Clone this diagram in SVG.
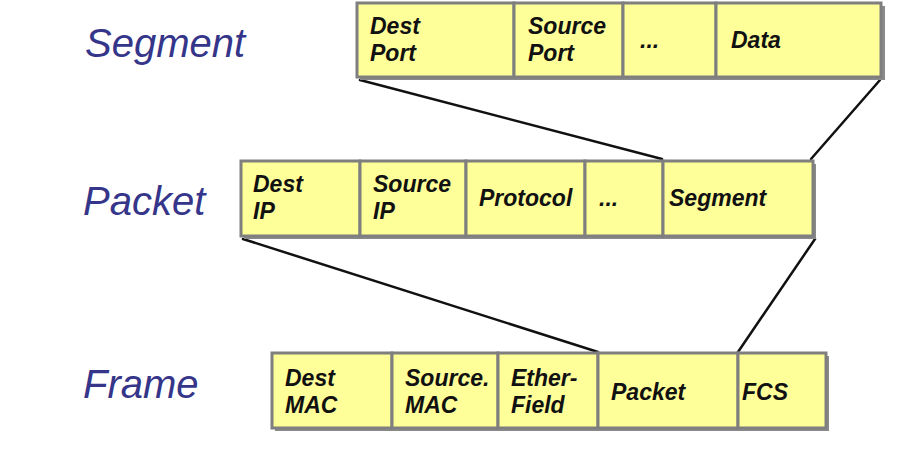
<svg xmlns="http://www.w3.org/2000/svg" width="905" height="461" viewBox="0 0 905 461">
<style>
.bg{fill:#ffffff}
.cell{fill:#ffff99;stroke:#7f7f7f;stroke-width:3}
.shadow{fill:#8a8a8a}
.t{font-family:"Liberation Sans",Arial,sans-serif;font-weight:bold;font-style:italic;font-size:23px;fill:#111111}
.lbl{font-family:"Liberation Sans",Arial,sans-serif;font-style:italic;font-size:40px;fill:#35358a}
.conn{stroke:#111111;stroke-width:2.5;fill:none;stroke-linecap:round}
</style>
<rect class="bg" x="0" y="0" width="905" height="461"/>
<g id="labels">
<text class="lbl" x="85" y="57">Segment</text>
<text class="lbl" x="83" y="215">Packet</text>
<text class="lbl" x="83" y="398">Frame</text>
</g>
<g id="connectors">
<line class="conn" x1="360" y1="80" x2="662" y2="159"/>
<line class="conn" x1="880" y1="80" x2="811" y2="159"/>
<line class="conn" x1="243" y1="239" x2="598" y2="352"/>
<line class="conn" x1="815" y1="239" x2="738" y2="352"/>
</g>
<g id="segment-row">
<rect class="shadow" x="360" y="6" width="525" height="74"/>
<g id="seg-dest-port"><rect class="cell" x="357" y="3" width="157" height="74"/><text class="t" x="370" y="34">Dest</text><text class="t" x="370" y="61">Port</text></g>
<g id="seg-source-port"><rect class="cell" x="514" y="3" width="109" height="74"/><text class="t" x="528" y="34">Source</text><text class="t" x="528" y="61">Port</text></g>
<g id="seg-dots"><rect class="cell" x="623" y="3" width="93" height="74"/><text class="t" x="640" y="48">...</text></g>
<g id="seg-data"><rect class="cell" x="716" y="3" width="165" height="74"/><text class="t" x="731" y="48">Data</text></g>
</g>
<g id="packet-row">
<rect class="shadow" x="244" y="164" width="572" height="75"/>
<g id="pkt-dest-ip"><rect class="cell" x="241" y="161" width="119" height="75"/><text class="t" x="253" y="192">Dest</text><text class="t" x="253" y="219">IP</text></g>
<g id="pkt-source-ip"><rect class="cell" x="360" y="161" width="106" height="75"/><text class="t" x="373" y="192">Source</text><text class="t" x="373" y="219">IP</text></g>
<g id="pkt-protocol"><rect class="cell" x="466" y="161" width="119" height="75"/><text class="t" x="479" y="206">Protocol</text></g>
<g id="pkt-dots"><rect class="cell" x="585" y="161" width="78" height="75"/><text class="t" x="599" y="206">...</text></g>
<g id="pkt-segment"><rect class="cell" x="663" y="161" width="150" height="75"/><text class="t" x="669" y="206">Segment</text></g>
</g>
<g id="frame-row">
<rect class="shadow" x="275" y="356" width="554" height="75"/>
<g id="frm-dest-mac"><rect class="cell" x="272" y="353" width="120" height="75"/><text class="t" x="285" y="386">Dest</text><text class="t" x="285" y="413">MAC</text></g>
<g id="frm-source-mac"><rect class="cell" x="392" y="353" width="106" height="75"/><text class="t" x="405" y="386">Source.</text><text class="t" x="405" y="413">MAC</text></g>
<g id="frm-ether-field"><rect class="cell" x="498" y="353" width="100" height="75"/><text class="t" x="511" y="386">Ether-</text><text class="t" x="511" y="413">Field</text></g>
<g id="frm-packet"><rect class="cell" x="598" y="353" width="140" height="75"/><text class="t" x="611" y="400">Packet</text></g>
<g id="frm-fcs"><rect class="cell" x="738" y="353" width="88" height="75"/><text class="t" x="742" y="400">FCS</text></g>
</g>
</svg>
